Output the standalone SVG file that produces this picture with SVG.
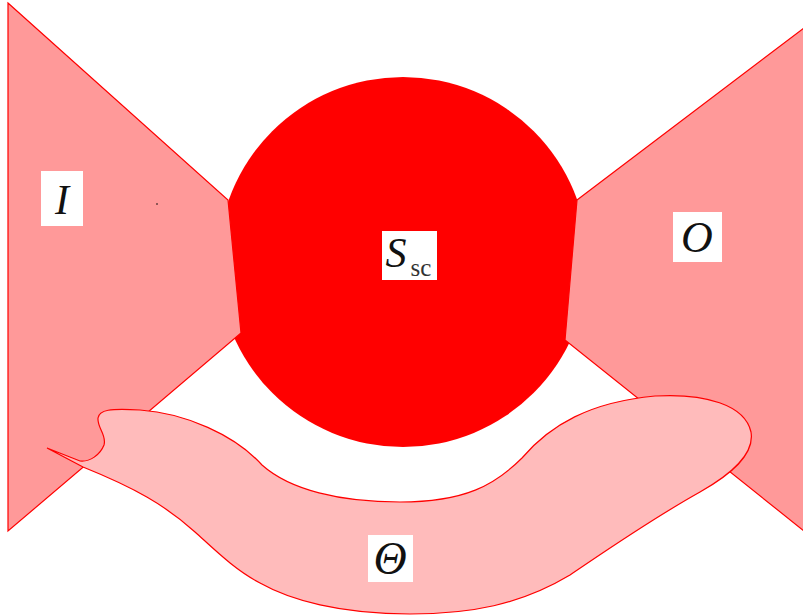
<svg xmlns="http://www.w3.org/2000/svg" width="803" height="616" viewBox="0 0 803 616">
<style>
.wedge{fill:#ff9999;stroke:#ff0000;stroke-width:1.2;stroke-linejoin:miter}
.blob{fill:#ffbbbb;stroke:#ff0000;stroke-width:1.2}
.lbl{fill:#ffffff}
.m{font-family:"Liberation Serif","DejaVu Serif",serif;font-style:italic;fill:#111111}
.sub{font-family:"Liberation Serif","DejaVu Serif",serif;fill:#333333}
</style>
<rect width="803" height="616" fill="#ffffff"/>
<g id="S_sc">
<circle cx="403" cy="262" r="185" fill="#ff0000"/>
</g>
<g id="I">
<polygon class="wedge" points="8,3 228,200 241,333 8,531"/>
<circle cx="157" cy="204" r="0.8" fill="#000000"/>
</g>
<g id="O">
<polygon class="wedge" points="577,200 804,28 804,531 565,340"/>
</g>
<g id="Theta">
<path class="blob" d="M98,418 C99,410 110,408 140,410 C185,413 235,435 262,465 C290,490 340,502 400,502 C465,502 495,485 522,458 C550,425 590,402 655,396 C705,393 745,405 751,432 C755,455 730,475 700,492 C650,520 610,548 570,575 C520,605 470,614 410,614 C340,614 290,600 260,583 C235,570 215,550 195,532 C165,505 135,488 83,467 L47,448 L80,461 C90,462 100,455 104,445 C107,435 97,428 98,418 Z"/>
</g>
<g id="labels">
<rect class="lbl" x="41" y="171" width="42" height="55"/>
<text class="m" x="62" y="214" font-size="42" text-anchor="middle">I</text>
<rect class="lbl" x="382" y="231" width="55" height="49"/>
<text class="m" x="396" y="267" font-size="42" text-anchor="middle">S</text>
<text class="sub" x="421" y="276" font-size="25" text-anchor="middle">sc</text>
<rect class="lbl" x="673" y="212" width="49" height="50"/>
<text class="m" x="697" y="252" font-size="44" text-anchor="middle">O</text>
<rect class="lbl" x="368" y="535" width="45" height="47"/>
<text class="m" x="390" y="574" font-size="46" text-anchor="middle">Θ</text>
</g>
</svg>
